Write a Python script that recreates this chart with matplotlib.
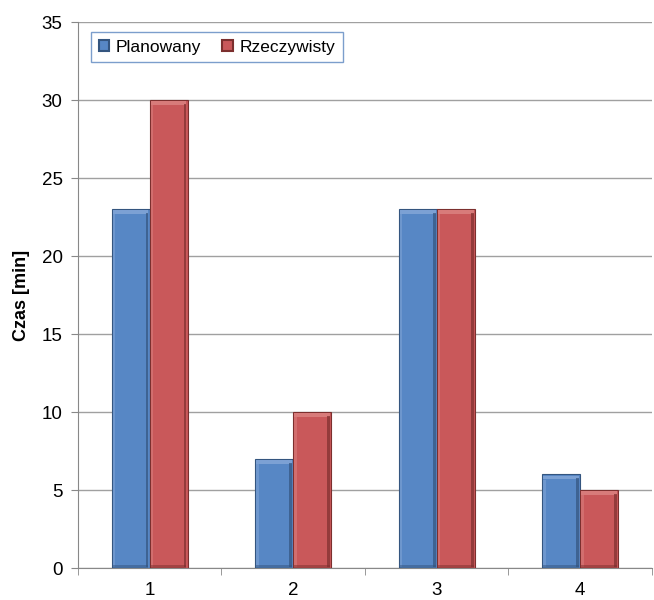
import matplotlib.pyplot as plt
import numpy as np
from matplotlib.patches import Rectangle

plt.rcParams['font.family'] = ['Liberation Sans', 'DejaVu Sans']

categories = ['1', '2', '3', '4']
planowany = [23, 7, 23, 6]
rzeczywisty = [30, 10, 23, 5]
series_names = ['Planowany', 'Rzeczywisty']
colors = ['#5787C5', '#C9585A']
dark = ['#34557F', '#7C2F2E']
light = ['#86A8D8', '#DC8583']

fig = plt.figure(figsize=(6.54, 6.0), dpi=100)
ax = fig.add_axes([0.119, 0.0533, 0.878, 0.910])

x = np.arange(len(categories))
w = 0.265


def bevel_bar(ax, xc, h, i):
    # flat body, light band on top/left, dark band on right/bottom
    ax.bar(xc, h, w, color=colors[i], edgecolor=dark[i], linewidth=0.8, zorder=3)
    dx = 0.02
    dy = 0.3
    x0 = xc - w / 2
    ax.add_patch(Rectangle((x0 + dx * 0.4, h - dy), w - dx * 0.8, dy * 0.75,
                           facecolor=light[i], edgecolor='none', zorder=4, alpha=0.8))
    if h > 2 * dy:
        ax.add_patch(Rectangle((x0 + dx * 0.4, dy * 0.2), dx * 0.9, h - 1.3 * dy,
                               facecolor=light[i], edgecolor='none', zorder=4, alpha=0.5))
        ax.add_patch(Rectangle((x0 + w - dx * 1.4, 0.05), dx, h - 1.0 * dy,
                               facecolor=dark[i], edgecolor='none', zorder=4, alpha=0.7))
        ax.add_patch(Rectangle((x0 + dx * 0.4, 0.03), w - dx * 0.8, dy * 0.5,
                               facecolor=dark[i], edgecolor='none', zorder=4, alpha=0.5))


for xi, p, r in zip(x, planowany, rzeczywisty):
    bevel_bar(ax, xi - w / 2, p, 0)
    bevel_bar(ax, xi + w / 2, r, 1)

ax.set_xlim(-0.5, len(categories) - 0.5)
ax.set_ylim(0, 35)
ax.set_yticks(np.arange(0, 36, 5))
ax.set_xticks(x)
ax.set_xticklabels(categories)
ax.set_xticks(np.arange(-0.5, len(categories), 1), minor=True)
ax.tick_params(axis='x', which='major', length=0, pad=10, labelsize=13.5)
ax.tick_params(axis='x', which='minor', length=5, color='#888888')
ax.tick_params(axis='y', length=5, color='#888888', pad=6, labelsize=13.5)
ax.yaxis.grid(True, color='#A0A0A0', linewidth=1.0, zorder=0)
ax.set_axisbelow(True)

for s in ['top', 'right']:
    ax.spines[s].set_visible(False)
ax.spines['left'].set_color('#888888')
ax.spines['bottom'].set_color('#888888')

ax.set_ylabel('Czas [min]', fontsize=13, fontweight='bold', labelpad=8)

handles = [Rectangle((0, 0), 1, 1, facecolor=colors[i], edgecolor=dark[i], linewidth=1.5)
           for i in range(2)]
leg = ax.legend(handles, series_names, loc='upper left', bbox_to_anchor=(0.0226, 0.982),
                ncol=2, fontsize=12.5, frameon=True, fancybox=False,
                handlelength=0.6, handleheight=0.6, handletextpad=0.4,
                columnspacing=1.2, borderpad=0.45, borderaxespad=0)
leg.get_frame().set_edgecolor('#5B86C0')
leg.get_frame().set_linewidth(1.0)

fig.savefig('out.png', dpi=100)
